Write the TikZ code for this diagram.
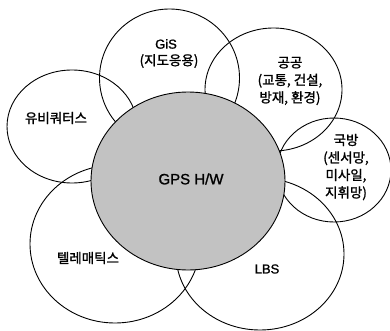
\documentclass[tikz,border=0pt]{standalone}
\usepackage{fontspec}
\setmainfont{Liberation Sans}
\newfontfamily\kr[FakeBold=1.3]{Noto Sans CJK KR}
\newfontfamily\latf[FakeBold=1.2]{Liberation Sans}
\usetikzlibrary{shapes.geometric}
\begin{document}
\begin{tikzpicture}[x=1pt,y=-1pt,
  ring/.style={draw=black, line width=0.9pt, ellipse, inner sep=0pt, outer sep=0pt},
  hub/.style={ring, fill=black!24},
  lbl/.style={font=\kr\fontsize{13.5}{17.5}\selectfont, align=center, inner sep=0pt},
  lat/.style={font=\latf\fontsize{13}{15}\selectfont, inner sep=0pt},
  big/.style={font=\latf\fontsize{15}{17}\selectfont, inner sep=0pt}]
\useasboundingbox (0,0) rectangle (390,331);
% outer circles
\node[ring, minimum width=140pt, minimum height=138pt] (gis) at (169.5,78) {};
\node[ring, minimum width=137pt, minimum height=123pt] (pub) at (273.5,89.5) {};
\node[ring, minimum width=114pt, minimum height=104pt] (def) at (334,170) {};
\node[ring, minimum width=168pt, minimum height=152pt] (lbs) at (260,254) {};
\node[ring, minimum width=170pt, minimum height=158pt] (tel) at (115,244) {};
\node[ring, minimum width=130pt, minimum height=113pt] (ubi) at (72,126.5) {};
% central circle
\node[hub, minimum width=194pt, minimum height=178pt] (gps) at (188,181) {};
% labels
\node[big] (gpsT) at (191,179) {GPS H/W};
\node[lat] (gisT) at (166,44) {GiS};
\node[lbl] (gisK) at (169,61) {(지도응용)};
\node[lbl] (pubT) at (290,81) {공공\\(교통, 건설,\\방재, 환경)};
\node[lbl] (defT) at (346,167) {국방\\(센서망,\\미사일,\\지휘망)};
\node[lbl] (ubiT) at (56,118) {유비쿼터스};
\node[lbl] (telT) at (88,258) {텔레매틱스};
\node[lat] (lbsT) at (267,269) {LBS};
\end{tikzpicture}
\end{document}
